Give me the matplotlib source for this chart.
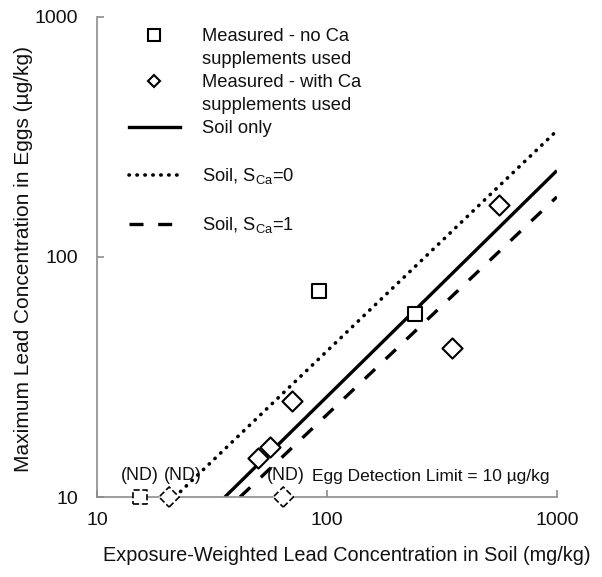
import numpy as np
import matplotlib
matplotlib.use('Agg')
import matplotlib.pyplot as plt
from matplotlib.lines import Line2D

plt.rcParams['font.family'] = ['Liberation Sans', 'DejaVu Sans']

# measured data (soil mg/kg, egg ug/kg)
noca_x = [92.5, 241]
noca_y = [72, 58]
noca_nd_x = [15.4]
noca_nd_y = [10]

ca_x = [50.2, 56.5, 70.2, 351, 560]
ca_y = [14.6, 16.1, 25.2, 41.7, 164]
ca_nd_x = [20.6, 64.6]
ca_nd_y = [10, 10]

# model lines (endpoints on log-log axes)
soil_x = [36.0, 1000]
soil_y = [10, 229]
sca0_x = [21.8, 1000]
sca0_y = [10, 336]
sca1_x = [41.9, 1000]
sca1_y = [10, 178]

txt = '#111111'
dots = (0, (0.1, 2.1))
dashes = (0, (4.2, 4.4))

fig = plt.figure(figsize=(6.02, 5.77), dpi=100)
ax = fig.add_axes([0.161, 0.1386, 0.764, 0.832])

ax.plot(soil_x, soil_y, color='black', lw=2.4, solid_capstyle='butt')
ax.plot(sca0_x, sca0_y, color='black', lw=2.6, linestyle=dots, dash_capstyle='round')
ax.plot(sca1_x, sca1_y, color='black', lw=2.4, linestyle=dashes, dash_capstyle='butt')

ax.scatter(noca_x, noca_y, marker='s', s=115, facecolors='white', edgecolors='black', linewidths=1.5, zorder=3)
ax.scatter(ca_x, ca_y, marker='D', s=105, facecolors='white', edgecolors='black', linewidths=1.5, zorder=3)
ax.scatter(noca_nd_x, noca_nd_y, marker='s', s=115, facecolors='white', edgecolors='black',
           linewidths=1.2, linestyles='--', zorder=3, clip_on=False)
ax.scatter(ca_nd_x, ca_nd_y, marker='D', s=105, facecolors='white', edgecolors='black',
           linewidths=1.2, linestyles='--', zorder=3, clip_on=False)

ax.set_xscale('log')
ax.set_yscale('log')
ax.set_xlim(10, 1000)
ax.set_ylim(10, 1000)
ax.set_xticks([10, 100, 1000])
ax.set_xticklabels(['10', '100', '1000'])
ax.set_yticks([10, 100, 1000])
ax.set_yticklabels(['10', '100', '1000'])
ax.minorticks_off()

for s in ['top', 'right']:
    ax.spines[s].set_visible(False)
for s in ['left', 'bottom']:
    ax.spines[s].set_color('#8c8c8c')
    ax.spines[s].set_linewidth(1.2)
ax.tick_params(direction='in', length=5, width=1.2, color='#8c8c8c', labelsize=14,
               labelcolor=txt)
ax.tick_params(axis='y', pad=13.5)
ax.tick_params(axis='x', pad=11)

ax.set_xlabel('Exposure-Weighted Lead Concentration in Soil (mg/kg)', fontsize=14.3, color=txt)
ax.set_ylabel('Maximum Lead Concentration in Eggs (µg/kg)', fontsize=15, color=txt)
ax.xaxis.set_label_coords(0.543, -0.102)
ax.yaxis.set_label_coords(-0.14, 0.496)

# annotations
ax.text(15.4, 11.35, '(ND)', ha='center', va='bottom', fontsize=12.8, color=txt)
ax.text(23.6, 11.35, '(ND)', ha='center', va='bottom', fontsize=12.8, color=txt)
ax.text(66, 11.35, '(ND)', ha='center', va='bottom', fontsize=12.8, color=txt)
ax.text(925, 11.35, 'Egg Detection Limit = 10 µg/kg', ha='right', va='bottom', fontsize=12.5,
        color=txt)

blank = Line2D([], [], color='none')
handles = [
    Line2D([], [], marker='s', ls='none', mfc='white', mec='black', ms=8.5, mew=1.5),
    blank,
    Line2D([], [], marker='D', ls='none', mfc='white', mec='black', ms=6.5, mew=1.5),
    blank,
    Line2D([], [], color='black', lw=2.4),
    blank,
    Line2D([], [], color='black', lw=2.6, linestyle=dots, dash_capstyle='round'),
    blank,
    Line2D([], [], color='black', lw=2.4, linestyle=dashes),
]
labels = [
    'Measured - no Ca', 'supplements used',
    'Measured - with Ca', 'supplements used',
    'Soil only', ' ',
    r'Soil, $\mathregular{S_{Ca}}$=0', ' ',
    r'Soil, $\mathregular{S_{Ca}}$=1',
]
leg = ax.legend(handles, labels, loc='upper left', bbox_to_anchor=(0.045, 1.0), frameon=False,
                fontsize=13.2, handlelength=2.8, handletextpad=1.2, labelspacing=0.33,
                borderaxespad=0.2)
for t in leg.get_texts():
    t.set_color(txt)

fig.savefig('out.png', dpi=100)
